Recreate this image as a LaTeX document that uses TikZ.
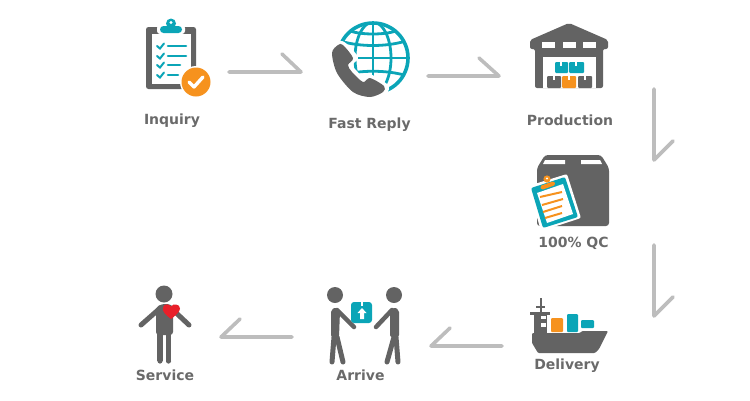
\documentclass[tikz,border=0pt]{standalone}
\usepackage{fontspec}
\setmainfont{DejaVu Sans}
\usepackage{xcolor}
\definecolor{icongray}{HTML}{636363}
\definecolor{labelgray}{HTML}{6A6A6A}
\definecolor{iconteal}{HTML}{0BA5B7}
\definecolor{iconorange}{HTML}{F6921E}
\definecolor{arrowgray}{HTML}{BDBDBD}
\definecolor{heartred}{HTML}{E8202A}
\begin{document}
\begin{tikzpicture}[x=1pt,y=-1pt]
  \tikzset{steplabel/.style={font=\bfseries\fontsize{14}{16}\selectfont,text=labelgray,inner sep=0pt}}
  \tikzset{flowarrow/.style={draw=arrowgray,line width=3.6pt,line cap=round,line join=round}}
  \tikzset{limb/.style={draw=icongray,line width=5pt,line cap=round}}
  \useasboundingbox (0,0) rectangle (750,400);
  % labels
  \node[steplabel] (inquiry) at (172,120.5) {Inquiry};
  \node[steplabel] (fastreply) at (369.5,124.5) {Fast Reply};
  \node[steplabel] (production) at (570,120.5) {Production};
  \node[steplabel] (qc) at (573.5,243) {100\% QC};
  \node[steplabel] (delivery) at (567,365.5) {Delivery};
  \node[steplabel] (arrive) at (360.5,375) {Arrive};
  \node[steplabel] (service) at (165,375) {Service};
  % arrows
  \coordinate (a1start) at (229,72);
  \coordinate (a1tip) at (301,72);
  \coordinate (a1barb) at (282,54);
  \coordinate (a2start) at (428,76);
  \coordinate (a2tip) at (499,76);
  \coordinate (a2barb) at (479,58);
  \coordinate (a3start) at (654,89);
  \coordinate (a3tip) at (654,160);
  \coordinate (a3barb) at (673,141);
  \coordinate (a4start) at (654,245);
  \coordinate (a4tip) at (654,316);
  \coordinate (a4barb) at (673,297);
  \coordinate (a5start) at (502,346);
  \coordinate (a5tip) at (431,346);
  \coordinate (a5barb) at (450,328);
  \coordinate (a6start) at (292,337);
  \coordinate (a6tip) at (221,337);
  \coordinate (a6barb) at (240,319);
  \draw[flowarrow] (a1start) -- (a1tip) -- (a1barb);
  \draw[flowarrow] (a2start) -- (a2tip) -- (a2barb);
  \draw[flowarrow] (a3start) -- (a3tip) -- (a3barb);
  \draw[flowarrow] (a4start) -- (a4tip) -- (a4barb);
  \draw[flowarrow] (a5start) -- (a5tip) -- (a5barb);
  \draw[flowarrow] (a6start) -- (a6tip) -- (a6barb);
  % inquiry icon
  \fill[icongray,rounded corners=2.5pt] (146,27) rectangle (196,89);
  \fill[white] (152,34) rectangle (191,84);
  \fill[white,rounded corners=3pt] (157,34) -- (157,25) -- (185,25) -- (185,34) -- cycle;
  \fill[iconteal] (171,23.5) circle[radius=5];
  \fill[iconteal,rounded corners=3.5pt] (160,33) -- (160,26) -- (182,26) -- (182,33) -- cycle;
  \fill[white] (171,22.5) circle[radius=1.6];
  \foreach \rowy/\rowend in {46/186,56/186,65/180,75/178}{
    \draw[iconteal,line width=2pt,line cap=round] (157,\rowy) -- (160,\rowy+2.5) -- (164,\rowy-2.5);
    \draw[iconteal,line width=2.6pt,line cap=round] (168,\rowy) -- (\rowend,\rowy);
  }
  \fill[white] (196,82) circle[radius=16];
  \fill[iconorange] (196,82) circle[radius=14.5];
  \draw[white,line width=3.4pt,line cap=round,line join=round] (189,82) -- (194,87) -- (203,77);
  % globe and handset
  \begin{scope}
    \clip (373,58) circle[radius=36];
    \draw[iconteal,line width=2.8pt] (373,22) -- (373,94);
    \draw[iconteal,line width=2.8pt] (373,58) ellipse[x radius=18,y radius=36];
    \draw[iconteal,line width=2.8pt] (337,58) -- (409,58);
    \draw[iconteal,line width=2.8pt] (340,41) .. controls (360,47) and (386,47) .. (406,41);
    \draw[iconteal,line width=2.8pt] (342,75) .. controls (360,70) and (386,70) .. (404,75);
    \draw[iconteal,line width=2.8pt] (350,31) .. controls (362,35) and (384,35) .. (396,31);
  \end{scope}
  \draw[iconteal,line width=3.6pt] (373,58) circle[radius=35];
  \fill[white] plot[smooth cycle,tension=.5] coordinates {(342,41) (329,53) (334,75) (352,95) (370,100) (386,94) (388,85) (370,74) (364,78) (356,70) (352,65) (358,57)};
  \fill[icongray] plot[smooth cycle,tension=.5] coordinates {(343,45) (338,45) (332,53) (337,73) (353,92) (370,97) (383,92) (384,86) (370,78) (363,82) (352,72) (348,65) (353,58)};
  % warehouse icon
  \fill[icongray,rounded corners=2pt] (569,23) -- (608,40) -- (608,49) -- (603,49) -- (603,88) -- (535,88) -- (535,49) -- (530,49) -- (530,40) -- cycle;
  \fill[white] (543,57) rectangle (596,88);
  \fill[white] (542,42) rectangle (555,48);
  \fill[white] (563,42) rectangle (576,48);
  \fill[white] (583,42) rectangle (596,48);
  \fill[iconteal,rounded corners=1pt] (555,62) rectangle (568,73);
  \fill[iconteal,rounded corners=1pt] (569,62) rectangle (584,73);
  \fill[icongray,rounded corners=1pt] (547,76) rectangle (561,88);
  \fill[iconorange,rounded corners=1pt] (562,76) rectangle (576,88);
  \fill[icongray,rounded corners=1pt] (578,76) rectangle (592,88);
  \foreach \notchx/\notchy in {561/62,576/62,554/76,569/76,585/76}{
    \fill[white] (\notchx-.6,\notchy) rectangle (\notchx+.6,\notchy+4);
  }
  % qc icon
  \fill[icongray,rounded corners=3pt] (545,155) -- (601,155) -- (609,168) -- (609,226) -- (537,226) -- (537,168) -- cycle;
  \fill[white] (545,160) -- (565,160) -- (565,164) -- (543,164) -- cycle;
  \fill[white] (581,160) -- (600,160) -- (602,164) -- (581,164) -- cycle;
  \fill[white,rounded corners=2pt] (528,186) -- (567,174) -- (581,218) -- (541,231) -- cycle;
  \fill[iconteal,rounded corners=2pt] (531,188) -- (565,177) -- (578,217) -- (543,228) -- cycle;
  \fill[white] (537,193) -- (563,184) -- (573,214) -- (547,223) -- cycle;
  \fill[iconorange] (547,179) circle[radius=3.6];
  \fill[white] (547,178.5) circle[radius=1.2];
  \fill[iconorange,rounded corners=1.5pt] (540,186) -- (554,181) -- (555.5,185) -- (541.5,190) -- cycle;
  \draw[iconorange,line width=2pt] (540,197) -- (562,192);
  \draw[iconorange,line width=2pt] (542,205) -- (563,199);
  \draw[iconorange,line width=2pt] (543,212) -- (562,206);
  \draw[iconorange,line width=2pt] (545,218) -- (562,213);
  % ship icon
  \fill[icongray,rounded corners=1pt] (532,333) -- (580,333) -- (582,331) -- (608,331) -- (599,349) -- (595,353) -- (538,353) -- (532,343) -- cycle;
  \fill[icongray] (534,313) rectangle (547,333);
  \fill[icongray] (530,312) rectangle (550,314.5);
  \fill[icongray] (540,298) rectangle (542,312);
  \fill[icongray] (536,306) rectangle (545,308);
  \fill[white] (541,316) rectangle (546,319);
  \fill[white] (541,323) rectangle (546,327);
  \fill[iconorange,rounded corners=1pt] (551,318) rectangle (563,332);
  \fill[iconteal,rounded corners=1pt] (567,314) rectangle (578,332);
  \fill[iconteal,rounded corners=1pt] (581,320) rectangle (594,328);
  % arrive icon
  \fill[icongray] (335,295) circle[radius=8];
  \fill[icongray] (394,295) circle[radius=8];
  \fill[icongray,rounded corners=2pt] (331,310) -- (336,307) -- (340,311) -- (339,337) -- (331,337) -- cycle;
  \fill[icongray,rounded corners=2pt] (399,310) -- (394,307) -- (390,311) -- (390,337) -- (399,337) -- cycle;
  \draw[limb,line width=4.5pt] (337,310) -- (354,327);
  \draw[limb,line width=4.5pt] (392,310) -- (376,327);
  \draw[limb] (334,337) -- (332,362);
  \draw[limb] (337,337) -- (343,362);
  \draw[limb] (394,337) -- (387,362);
  \draw[limb] (396,337) -- (398,362);
  \fill[iconteal,rounded corners=3pt] (351,302) rectangle (372,323);
  \fill[white] (362,308) -- (366.5,313) -- (364,313) -- (364,319) -- (360,319) -- (360,313) -- (357.5,313) -- cycle;
  \fill[white] (361,302) rectangle (363,306);
  % service icon
  \fill[icongray] (164,294) circle[radius=8.5];
  \fill[icongray,rounded corners=3pt] (156,307) -- (162,304) -- (170,304) -- (173,307) -- (173,335) -- (156,335) -- cycle;
  \draw[limb] (158,310) -- (141,325);
  \draw[limb] (172,309) -- (189,325);
  \draw[limb,line cap=butt,line width=5.2pt] (160,333) -- (160,361);
  \draw[limb,line cap=butt,line width=5.2pt] (168.5,333) -- (168.5,361);
  \fill[icongray] (160,361) circle[radius=2.6];
  \fill[icongray] (168.5,361) circle[radius=2.6];
  \fill[heartred] (171,319) .. controls (166,315) and (162,312) .. (163,307.5) .. controls (164,303.5) and (169,303.5) .. (171,306.5) .. controls (173,303) and (180,304) .. (180,308.5) .. controls (180,312) and (175,316) .. (171,319) -- cycle;
\end{tikzpicture}
\end{document}
